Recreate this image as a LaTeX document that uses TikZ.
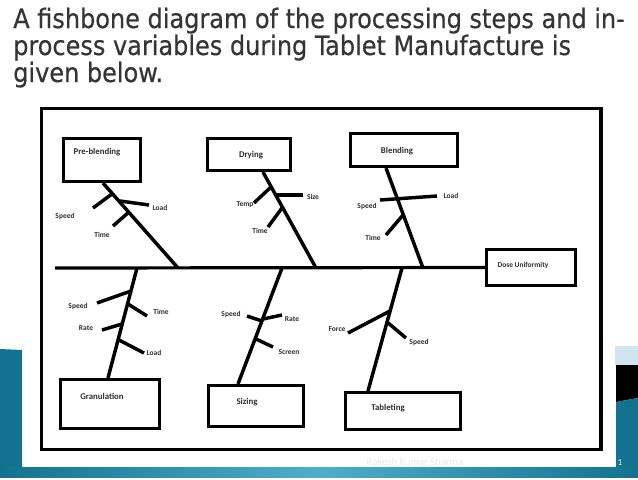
\documentclass[tikz,border=0pt]{standalone}
\usepackage{fontspec}
\newfontfamily\titlefont[FakeBold=0.5]{DejaVu Sans Condensed}
\newfontfamily\lblfont{Carlito}
\usetikzlibrary{calc}
\definecolor{tealdark}{HTML}{137290}
\definecolor{teallight}{HTML}{4FAECB}
\definecolor{tealpale}{HTML}{CFE6EE}
\definecolor{titlegray}{HTML}{353535}
\definecolor{lblgray}{HTML}{2E2E2E}
\begin{document}
\begin{tikzpicture}[x=0.75pt,y=-0.75pt,
  frame/.style={draw=black,line width=2.3pt},
  boxst/.style={draw=black,line width=2.3pt,fill=white,inner sep=0pt},
  boxtxt/.style={font=\lblfont\bfseries\fontsize{6.6}{7}\selectfont,text=lblgray,inner sep=0pt},
  small/.style={font=\lblfont\bfseries\fontsize{5.6}{6}\selectfont,text=lblgray,inner sep=0pt},
  bone/.style={line width=2.6pt},
  spine/.style={line width=2.4pt},
  ttl/.style={font=\titlefont\fontsize{20}{22}\selectfont,text=titlegray,anchor=base west,inner sep=0pt}]
\useasboundingbox (0,0) rectangle (638,479);
% slide background
\fill[tealdark] (0,349) -- (22,350) -- (22,477) -- (0,477) -- cycle;
\fill[tealpale] (615,346) rectangle (638,366);
\fill[black] (616,365) -- (638,365) -- (638,398) -- (616,402) -- cycle;
\fill[tealdark] (616,402) -- (638,398) -- (638,467) -- (616,467) -- cycle;
\shade[left color=tealdark,right color=tealdark,middle color=teallight] (0,467) rectangle (638,477);
\node[font=\lblfont\fontsize{8}{9}\selectfont,text=black!9,inner sep=0pt] (author) at (415,462) {Rakesh Kumar Sharma};
\node[font=\lblfont\fontsize{7}{8}\selectfont,text=white!85!tealdark,inner sep=0pt] (pagenum) at (620,462) {1};
% title
\node[ttl] (t1) at (13,28) {A fishbone diagram of the processing steps and in-};
\node[ttl] (t2) at (13,55) {process variables during Tablet Manufacture is};
\node[ttl] (t3) at (13,82) {given below.};
% frame
\draw[frame] (41.5,108.5) rectangle (601,449.5);
% boxes
\node[boxst,minimum width=77*0.75pt,minimum height=43*0.75pt] (preb) at (102,160) {};
\node[boxst,minimum width=83*0.75pt,minimum height=32*0.75pt] (dry) at (249,154.5) {};
\node[boxst,minimum width=107*0.75pt,minimum height=33*0.75pt] (blend) at (404,150) {};
\node[boxst,minimum width=89*0.75pt,minimum height=36*0.75pt] (dose) at (531,267.5) {};
\node[boxst,minimum width=99*0.75pt,minimum height=49*0.75pt] (gran) at (110,404) {};
\node[boxst,minimum width=95*0.75pt,minimum height=41*0.75pt] (siz) at (256,406) {};
\node[boxst,minimum width=115*0.75pt,minimum height=37*0.75pt] (tab) at (403,411) {};
\node[boxtxt] (prebt) at (97,152) {Pre-blending};
\node[boxtxt] (dryt) at (251,155.5) {Drying};
\node[boxtxt] (blendt) at (397,151) {Blending};
\node[small] (doset) at (523,265) {Dose Uniformity};
\node[boxtxt] (grant) at (102,396) {Granulation};
\node[boxtxt] (sizt) at (247,402) {Sizing};
\node[boxtxt] (tabt) at (388,408) {Tableting};
% spine
\coordinate (tail) at (55,268);
\draw[spine] (tail) -- (dose.west);
\coordinate (j1) at (178,268);
\coordinate (j2) at (316,268);
\coordinate (j3) at (423,268);
\coordinate (k1) at (137,268);
\coordinate (k2) at (282,268);
\coordinate (k3) at (402,268);
% main bones
\draw[bone] ([xshift=1*0.75pt]preb.south) -- (j1);
\draw[bone] ([xshift=14*0.75pt]dry.south) -- (j2);
\draw[bone] ([xshift=-18*0.75pt]blend.south) -- (j3);
\draw[bone] (k1) -- ([xshift=-2*0.75pt]gran.north);
\draw[bone] (k2) -- ([xshift=-18*0.75pt]siz.north);
\draw[bone] (k3) -- ([xshift=-35*0.75pt]tab.north);
% pre-blending sub-bones
\coordinate (p1a) at (112,194); \coordinate (p1b) at (93,208);
\coordinate (p2a) at (120,201); \coordinate (p2b) at (149,205);
\coordinate (p3a) at (129,212); \coordinate (p3b) at (113,226);
\draw[bone] (p1a) -- (p1b);
\draw[bone] (p2a) -- (p2b);
\draw[bone] (p3a) -- (p3b);
\node[small] (ps) at (65,216) {Speed};
\node[small] (pl) at (160,208) {Load};
\node[small] (pt) at (102,235) {Time};
% drying sub-bones
\coordinate (d1a) at (271,187); \coordinate (d1b) at (254,203);
\coordinate (d2a) at (275,195); \coordinate (d2b) at (303,195);
\coordinate (d3a) at (282,208); \coordinate (d3b) at (268,227);
\draw[bone] (d1a) -- (d1b);
\draw[bone] (d2a) -- (d2b);
\draw[bone] (d3a) -- (d3b);
\node[small] (dtemp) at (245,205) {Temp};
\node[small] (dsize) at (313,197) {Size};
\node[small] (dtime) at (260,231) {Time};
% blending sub-bones
\coordinate (b1a) at (380,200); \coordinate (b1b) at (437,196);
\coordinate (b2a) at (403,215); \coordinate (b2b) at (386,235);
\draw[bone] (b1a) -- (b1b);
\draw[bone] (b2a) -- (b2b);
\node[small] (bs) at (367,206) {Speed};
\node[small] (bl) at (451,196) {Load};
\node[small] (bt) at (373,238) {Time};
% granulation sub-bones
\coordinate (g1a) at (131,291); \coordinate (g1b) at (97,303);
\coordinate (g2a) at (128,304); \coordinate (g2b) at (147,316);
\coordinate (g3a) at (122,324); \coordinate (g3b) at (102,330);
\coordinate (g4a) at (119,340); \coordinate (g4b) at (144,353);
\draw[bone] (g1a) -- (g1b);
\draw[bone] (g2a) -- (g2b);
\draw[bone] (g3a) -- (g3b);
\draw[bone] (g4a) -- (g4b);
\node[small] (gs) at (78,306) {Speed};
\node[small] (gt) at (161,312) {Time};
\node[small] (gr) at (86,328) {Rate};
\node[small] (gl) at (154,353) {Load};
% sizing sub-bones
\coordinate (s1a) at (262,321); \coordinate (s1b) at (247,316);
\coordinate (s2a) at (263,319); \coordinate (s2b) at (282,315);
\coordinate (s3a) at (256,339); \coordinate (s3b) at (273,347);
\draw[bone] (s1a) -- (s1b);
\draw[bone] (s2a) -- (s2b);
\draw[bone] (s3a) -- (s3b);
\node[small] (ss) at (231,314) {Speed};
\node[small] (sr) at (292,319) {Rate};
\node[small] (sc) at (289,352) {Screen};
% tableting sub-bones
\coordinate (tb1a) at (390,311); \coordinate (tb1b) at (348,333);
\coordinate (tb2a) at (387,322); \coordinate (tb2b) at (406,338);
\draw[bone] (tb1a) -- (tb1b);
\draw[bone] (tb2a) -- (tb2b);
\node[small] (tf) at (337,329) {Force};
\node[small] (tsp) at (419,342) {Speed};
\end{tikzpicture}
\end{document}
